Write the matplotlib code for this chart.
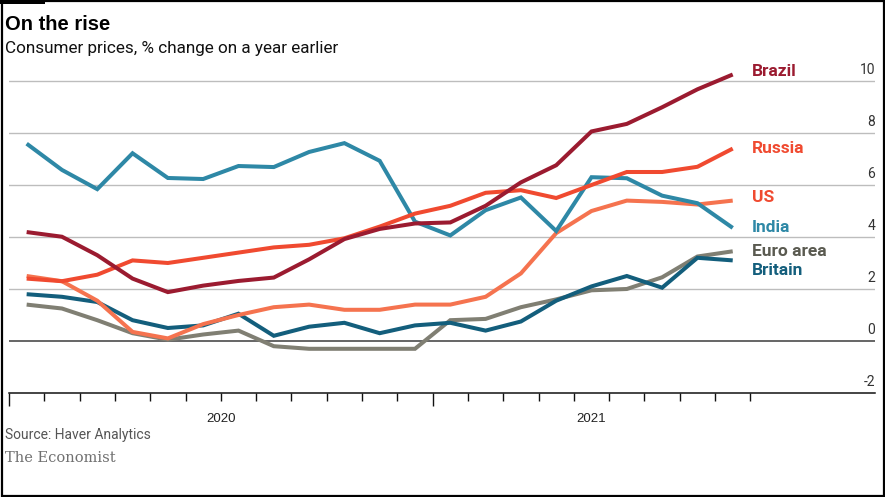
import matplotlib
matplotlib.use("Agg")
import matplotlib.pyplot as plt
from matplotlib import font_manager
from matplotlib.patches import Rectangle
import matplotlib.transforms as mtransforms

# ---------------- data ----------------
months = list(range(21))          # Jan 2020 .. Sep 2021 (month index)
brazil = [4.19, 4.01, 3.30, 2.40, 1.88, 2.13, 2.31, 2.44, 3.14, 3.92, 4.31, 4.52,
          4.56, 5.20, 6.10, 6.76, 8.06, 8.35, 8.99, 9.68, 10.25]
russia = [2.4, 2.3, 2.55, 3.1, 3.0, 3.2, 3.4, 3.6, 3.7, 3.95, 4.4, 4.9,
          5.2, 5.7, 5.8, 5.5, 6.0, 6.5, 6.5, 6.7, 7.4]
us = [2.5, 2.3, 1.55, 0.35, 0.1, 0.65, 1.0, 1.3, 1.4, 1.2, 1.2, 1.4,
      1.4, 1.7, 2.6, 4.15, 5.0, 5.4, 5.35, 5.25, 5.4]
india = [7.59, 6.58, 5.84, 7.22, 6.27, 6.23, 6.73, 6.69, 7.27, 7.61, 6.93, 4.59,
         4.06, 5.03, 5.52, 4.23, 6.30, 6.26, 5.59, 5.30, 4.35]
euro = [1.4, 1.25, 0.8, 0.3, 0.05, 0.25, 0.4, -0.2, -0.3, -0.3, -0.3, -0.3,
        0.8, 0.85, 1.3, 1.6, 1.95, 2.0, 2.45, 3.25, 3.45]
britain = [1.8, 1.7, 1.5, 0.8, 0.5, 0.6, 1.05, 0.2, 0.55, 0.7, 0.3, 0.6,
           0.7, 0.4, 0.75, 1.55, 2.1, 2.5, 2.05, 3.2, 3.1]

series_names = ["Euro area", "Britain", "US", "India", "Russia", "Brazil"]
series_values = [euro, britain, us, india, russia, brazil]
line_colors = ["#807F73", "#135E7C", "#F5734F", "#2E88A6", "#F04A30", "#9B1B30"]
label_colors = ["#5A5A50", "#135E7C", "#F04A30", "#2E88A6", "#F04A30", "#9B1B30"]
label_y = [3.46, 2.73, 5.5, 4.38, 7.42, 10.35]

y_ticks = [-2, 0, 2, 4, 6, 8, 10]
year_labels = ["2020", "2021"]
year_label_pos = [6, 16.5]
major_ticks = [0, 12]
minor_ticks = [m for m in range(1, 22) if m != 12]

title = "On the rise"
subtitle = "Consumer prices, % change on a year earlier"
source = "Source: Haver Analytics"
brand = "The Economist"

# ---------------- fonts ----------------
names = {f.name for f in font_manager.fontManager.ttflist}
narrow = "Liberation Sans Narrow" if "Liberation Sans Narrow" in names else "Roboto"
regular = "Liberation Sans" if "Liberation Sans" in names else "DejaVu Sans"
plt.rcParams["font.family"] = [narrow, "DejaVu Sans"]

# ---------------- figure ----------------
W, H = 885, 497
fig = plt.figure(figsize=(W / 100, H / 100), dpi=100)

def fx(px):
    return px / W

def fy(py):
    return 1 - py / H

ax = fig.add_axes([fx(9), fy(393), fx(875) - fx(9), fy(55) - fy(393)])
ax.set_xlim(0, 24.53)
ax.set_ylim(-2, 11)

# gridlines
for v in y_ticks[1:]:
    if v == 0:
        ax.axhline(v, color="#3C3C3C", lw=1.1, zorder=1)
    else:
        ax.axhline(v, color="#BDBDBD", lw=1.0, zorder=0)

for name, vals, c in zip(series_names, series_values, line_colors):
    ax.plot([m + 0.5 for m in months], vals, color=c, lw=2.9,
            solid_joinstyle="miter", solid_capstyle="butt", zorder=3)

for name, ly, c in zip(series_names, label_y, label_colors):
    ax.text(21.05, ly, name, color=c, fontsize=12.5, fontweight="bold",
            ha="left", va="center", family=[narrow, "DejaVu Sans"])

# right y labels above gridlines
for v in y_ticks:
    ax.annotate(str(v), xy=(1.0, v), xycoords=("axes fraction", "data"),
                xytext=(0, 3), textcoords="offset points",
                ha="right", va="bottom", fontsize=10, color="#333333")

# spines / ticks
for s in ["top", "left", "right"]:
    ax.spines[s].set_visible(False)
ax.spines["bottom"].set_color("#111111")
ax.spines["bottom"].set_linewidth(1.1)
ax.set_yticks([])
ax.set_xticks(major_ticks)
ax.set_xticklabels([])
ax.set_xticks(minor_ticks, minor=True)
ax.tick_params(axis="x", which="major", length=9, width=1.0, color="#111111", direction="out")
ax.tick_params(axis="x", which="minor", length=5.5, width=1.0, color="#111111", direction="out")

trans = mtransforms.blended_transform_factory(ax.transData, fig.transFigure)
for lab, pos in zip(year_labels, year_label_pos):
    ax.text(pos, fy(422.5), lab, transform=trans, ha="center", va="baseline",
            fontsize=9.5, color="#222222", family=[regular, "DejaVu Sans"])

# titles
fig.text(fx(5), fy(30), title, fontsize=14.5, fontweight="bold", color="#000000",
         ha="left", va="baseline", family=[regular, "DejaVu Sans"])
fig.text(fx(5), fy(53), subtitle, fontsize=12.3, color="#111111",
         ha="left", va="baseline")
fig.text(fx(5), fy(439), source, fontsize=10, color="#555555",
         ha="left", va="baseline")
fig.text(fx(5), fy(462), brand, fontsize=10.5, color="#707070",
         ha="left", va="baseline", family=["DejaVu Serif"])

# frame
fig.patches.append(Rectangle((fx(1.5), fy(495.5)), fx(882), fy(1.5) - fy(495.5),
                             transform=fig.transFigure, fill=False,
                             edgecolor="#000000", lw=1.6))
fig.patches.append(Rectangle((0, fy(4)), fx(45), fy(0) - fy(4),
                             transform=fig.transFigure, facecolor="#000000",
                             edgecolor="none"))

fig.savefig("out.png", dpi=100)
